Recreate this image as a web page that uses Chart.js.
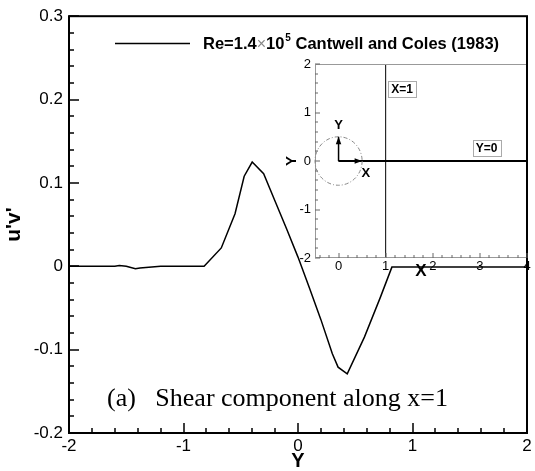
<!DOCTYPE html>
<html>
<head>
<meta charset="utf-8">
<script src="https://cdn.jsdelivr.net/npm/chart.js@4.4.0/dist/chart.umd.min.js"></script>
<style>
html, body { margin: 0; padding: 0; background: #fff; }
#wrap { position: relative; width: 535px; height: 471px; }
#main { position: absolute; left: 0; top: 0; }
#inset { position: absolute; left: 280px; top: 50px; }
</style>
</head>
<body>
<div id="wrap">
    <canvas id="main" width="535" height="471"></canvas>
    <canvas id="inset" width="255" height="230"></canvas>
</div>
<script>
// data kurva utama
var yPos = [-2, -1.8, -1.6, -1.56, -1.5, -1.42, -1.38, -1.2, -1.0, -0.82, -0.67, -0.55, -0.47, -0.4, -0.3,
    -0.2, -0.1, 0.0, 0.1, 0.2, 0.3, 0.35, 0.43, 0.58, 0.72, 0.82, 1.0, 1.5, 2.0];
var uvShear = [0, 0, 0, 0.001, 0, -0.003, -0.002, 0, 0, 0, 0.022, 0.063, 0.108, 0.125, 0.111,
    0.078, 0.045, 0.011, -0.026, -0.064, -0.105, -0.121, -0.129, -0.085, -0.037, -0.001, -0.001, -0.001, -0.001];

// tick utama
var xTicksMain = [-2, -1, 0, 1, 2];
var yTicksMain = [-0.2, -0.1, 0, 0.1, 0.2, 0.3];

// data inset
var insetXTicks = [0, 1, 2, 3, 4];
var insetYTicks = [-2, -1, 0, 1, 2];
var lineX1 = { x: [1, 1], y: [-2, 2] };
var lineY0 = { x: [0, 4], y: [0, 0] };
var arrowX = { x: [0, 0.5], y: [0, 0] };
var arrowY = { x: [0, 0], y: [0, 0.5] };
var circle = { x: 0, y: 0, r: 0.5 };

function toPoints(xs, ys) {
    var pts = [];
    for (var i = 0; i < xs.length; i++) pts.push({ x: xs[i], y: ys[i] });
    return pts;
}

var sansFont = "'Liberation Sans', Arial, sans-serif";
var serifFont = "'Liberation Serif', 'Times New Roman', serif";

// tick ke dalam (bawah dan kiri)
function drawInnerTicks(chart, opt) {
    var ctx = chart.ctx;
    var a = chart.chartArea;
    var xs = chart.scales.x, ys = chart.scales.y;
    ctx.save();
    ctx.strokeStyle = opt.tickColor;
    ctx.lineWidth = opt.width;
    ctx.setLineDash([]);
    ctx.beginPath();
    var nx = Math.round((opt.xMax - opt.xMin) / opt.xMinor);
    for (var i = 0; i <= nx; i++) {
        var v = opt.xMin + i * opt.xMinor;
        var px = Math.round(xs.getPixelForValue(v));
        var isMajor = Math.abs(v / opt.xMajor - Math.round(v / opt.xMajor)) < 1e-6;
        var len = isMajor ? opt.major : opt.minor;
        ctx.moveTo(px, a.bottom);
        ctx.lineTo(px, a.bottom - len);
    }
    var ny = Math.round((opt.yMax - opt.yMin) / opt.yMinor);
    for (var j = 0; j <= ny; j++) {
        var w = opt.yMin + j * opt.yMinor;
        var py = Math.round(ys.getPixelForValue(w));
        var isMaj = Math.abs(w / opt.yMajor - Math.round(w / opt.yMajor)) < 1e-6;
        var l = isMaj ? opt.major : opt.minor;
        ctx.moveTo(a.left, py);
        ctx.lineTo(a.left + l, py);
    }
    ctx.stroke();
    ctx.restore();
}

// plugin chart utama
var mainDeco = {
    id: 'mainDeco',
    afterDraw: function(chart) {
        var ctx = chart.ctx;
        var a = chart.chartArea;
        ctx.save();
        ctx.strokeStyle = '#000';
        ctx.lineWidth = 2;
        ctx.strokeRect(a.left, a.top, a.right - a.left, a.bottom - a.top);
        ctx.restore();
        drawInnerTicks(chart, {
            xMin: -2, xMax: 2, xMinor: 0.2, xMajor: 1,
            yMin: -0.2, yMax: 0.3, yMinor: 0.02, yMajor: 0.1,
            major: 10, minor: 5, tickColor: '#000', width: 1.5
        });
        ctx.save();
        // legenda
        ctx.strokeStyle = '#000';
        ctx.lineWidth = 1.5;
        ctx.beginPath();
        ctx.moveTo(115, 43.5);
        ctx.lineTo(190, 43.5);
        ctx.stroke();
        ctx.textBaseline = 'alphabetic';
        ctx.textAlign = 'left';
        var x = 203, base = 49;
        ctx.fillStyle = '#000';
        ctx.font = 'bold 16.5px ' + sansFont;
        ctx.fillText('Re=1.4', x, base);
        x += ctx.measureText('Re=1.4').width;
        ctx.font = '16px ' + sansFont;
        ctx.fillStyle = '#888';
        ctx.fillText('\u00d7', x, base);
        x += ctx.measureText('\u00d7').width;
        ctx.fillStyle = '#000';
        ctx.font = 'bold 16.5px ' + sansFont;
        ctx.fillText('10', x, base);
        x += ctx.measureText('10').width;
        ctx.font = 'bold 10px ' + sansFont;
        ctx.fillText('5', x + 1, base - 8);
        x += ctx.measureText('5').width + 1;
        ctx.font = 'bold 16.5px ' + sansFont;
        ctx.fillText(' Cantwell and Coles (1983)', x, base);

        // keterangan
        ctx.font = '26px ' + serifFont;
        ctx.fillText('(a)   Shear component along x=1', 107, 406);
        ctx.restore();
    }
};

new Chart(document.getElementById('main'), {
    type: 'scatter',
    data: {
        datasets: [{
            label: 'Re=1.4x10^5 Cantwell and Coles (1983)',
            data: toPoints(yPos, uvShear),
            showLine: true,
            borderColor: '#000',
            borderWidth: 1.5,
            pointRadius: 0,
            tension: 0
        }]
    },
    options: {
        responsive: false,
        animation: false,
        layout: { padding: { top: 16, right: 8, left: 0, bottom: 0 } },
        plugins: { legend: { display: false }, tooltip: { enabled: false } },
        scales: {
            x: {
                type: 'linear', min: -2, max: 2,
                afterBuildTicks: function(s) { s.ticks = xTicksMain.map(function(v) { return { value: v }; }); },
                afterFit: function(s) { s.height = 38; },
                ticks: { color: '#000', padding: 3, font: { family: sansFont, size: 17 } },
                grid: { display: false, drawTicks: false },
                border: { display: false },
                title: { display: true, text: 'Y', color: '#000', padding: 0, font: { family: sansFont, size: 20, weight: 'bold', lineHeight: 1 } }
            },
            y: {
                type: 'linear', min: -0.2, max: 0.3,
                afterBuildTicks: function(s) { s.ticks = yTicksMain.map(function(v) { return { value: v }; }); },
                afterFit: function(s) { s.width = 69; },
                ticks: {
                    color: '#000', padding: 6, font: { family: sansFont, size: 17 },
                    callback: function(v) { return String(Math.round(v * 10) / 10); }
                },
                grid: { display: false, drawTicks: false },
                border: { display: false },
                title: { display: true, text: "u'v'", color: '#000', padding: { top: 3, bottom: 0 }, font: { family: sansFont, size: 21, weight: 'bold', lineHeight: 1.1 } }
            }
        }
    },
    plugins: [mainDeco]
});

// plugin inset
function arrowHead(ctx, x0, y0, x1, y1, size) {
    var ang = Math.atan2(y1 - y0, x1 - x0);
    ctx.beginPath();
    ctx.moveTo(x1, y1);
    ctx.lineTo(x1 - size * Math.cos(ang - 0.35), y1 - size * Math.sin(ang - 0.35));
    ctx.lineTo(x1 - size * Math.cos(ang + 0.35), y1 - size * Math.sin(ang + 0.35));
    ctx.closePath();
    ctx.fill();
}

function boxLabel(ctx, text, cx, cy) {
    ctx.font = 'bold 12px ' + sansFont;
    var w = ctx.measureText(text).width;
    ctx.fillStyle = '#000';
    ctx.textAlign = 'center';
    ctx.textBaseline = 'middle';
    ctx.fillText(text, cx, cy);
    ctx.strokeStyle = '#aaa';
    ctx.lineWidth = 1;
    ctx.strokeRect(Math.round(cx - w / 2 - 3) + 0.5, Math.round(cy - 8) + 0.5, Math.round(w + 6), 16);
}

var insetDeco = {
    id: 'insetDeco',
    beforeDraw: function(chart) {
        var a = chart.chartArea;
        chart.ctx.save();
        chart.ctx.fillStyle = '#fff';
        chart.ctx.fillRect(a.left, a.top, a.right - a.left, a.bottom - a.top);
        chart.ctx.restore();
    },
    afterDraw: function(chart) {
        var ctx = chart.ctx;
        var a = chart.chartArea;
        var xs = chart.scales.x, ys = chart.scales.y;
        ctx.save();
        // bingkai
        ctx.lineWidth = 1;
        ctx.strokeStyle = '#999';
        ctx.beginPath();
        ctx.moveTo(a.right, a.top + 0.5);
        ctx.lineTo(a.left + 0.5, a.top + 0.5);
        ctx.lineTo(a.left + 0.5, a.bottom - 0.5);
        ctx.lineTo(a.right, a.bottom - 0.5);
        ctx.stroke();
        ctx.strokeStyle = '#000';
        ctx.lineWidth = 2;
        ctx.beginPath();
        ctx.moveTo(a.right, a.top);
        ctx.lineTo(a.right, a.bottom);
        ctx.stroke();
        ctx.restore();
        drawInnerTicks(chart, {
            xMin: -0.4, xMax: 4, xMinor: 0.2, xMajor: 1,
            yMin: -2, yMax: 2, yMinor: 0.2, yMajor: 1,
            major: 5, minor: 3, tickColor: '#666', width: 1
        });
        ctx.save();

        // lingkaran putus-putus
        var cx = xs.getPixelForValue(circle.x), cy = ys.getPixelForValue(circle.y);
        var rx = xs.getPixelForValue(circle.x + circle.r) - cx;
        var ry = cy - ys.getPixelForValue(circle.y + circle.r);
        ctx.strokeStyle = '#888';
        ctx.lineWidth = 1;
        ctx.setLineDash([4, 2, 1, 2]);
        ctx.beginPath();
        ctx.ellipse(cx, cy, rx, ry, 0, 0, Math.PI * 2);
        ctx.stroke();
        ctx.setLineDash([]);

        // kepala panah
        ctx.fillStyle = '#000';
        arrowHead(ctx, xs.getPixelForValue(arrowX.x[0]), ys.getPixelForValue(arrowX.y[0]),
            xs.getPixelForValue(arrowX.x[1]), ys.getPixelForValue(arrowX.y[1]), 8);
        arrowHead(ctx, xs.getPixelForValue(arrowY.x[0]), ys.getPixelForValue(arrowY.y[0]),
            xs.getPixelForValue(arrowY.x[1]), ys.getPixelForValue(arrowY.y[1]), 8);

        // label
        ctx.font = 'bold 13px ' + sansFont;
        ctx.textAlign = 'center';
        ctx.textBaseline = 'middle';
        ctx.fillText('Y', xs.getPixelForValue(0), ys.getPixelForValue(0.73));
        ctx.fillText('X', xs.getPixelForValue(0.58), ys.getPixelForValue(-0.25));
        boxLabel(ctx, 'X=1', xs.getPixelForValue(1.35), ys.getPixelForValue(1.48));
        boxLabel(ctx, 'Y=0', xs.getPixelForValue(3.14), ys.getPixelForValue(0.26));
        ctx.restore();
    }
};

new Chart(document.getElementById('inset'), {
    type: 'scatter',
    data: {
        datasets: [
            { data: toPoints(lineX1.x, lineX1.y), showLine: true, borderColor: '#000', borderWidth: 1, pointRadius: 0 },
            { data: toPoints(lineY0.x, lineY0.y), showLine: true, borderColor: '#000', borderWidth: 2, pointRadius: 0 },
            { data: toPoints(arrowX.x, arrowX.y), showLine: true, borderColor: '#000', borderWidth: 1.5, pointRadius: 0 },
            { data: toPoints(arrowY.x, arrowY.y), showLine: true, borderColor: '#000', borderWidth: 1.5, pointRadius: 0 }
        ]
    },
    options: {
        responsive: false,
        animation: false,
        layout: { padding: { top: 14, right: 8, left: 0, bottom: 0 } },
        plugins: { legend: { display: false }, tooltip: { enabled: false } },
        scales: {
            x: {
                type: 'linear', min: -0.5, max: 4,
                afterBuildTicks: function(s) { s.ticks = insetXTicks.map(function(v) { return { value: v }; }); },
                afterFit: function(s) { s.height = 22; },
                ticks: { color: '#000', padding: 1, font: { family: sansFont, size: 13 } },
                grid: { display: false, drawTicks: false },
                border: { display: false },
                title: { display: true, text: 'X', color: '#000', padding: 0, font: { family: sansFont, size: 17, weight: 'bold', lineHeight: 1 } }
            },
            y: {
                type: 'linear', min: -2, max: 2,
                afterBuildTicks: function(s) { s.ticks = insetYTicks.map(function(v) { return { value: v }; }); },
                afterFit: function(s) { s.width = 35; },
                ticks: { color: '#000', padding: 4, font: { family: sansFont, size: 13 } },
                grid: { display: false, drawTicks: false },
                border: { display: false },
                title: { display: true, text: 'Y', color: '#000', padding: { top: 3, bottom: 0 }, font: { family: sansFont, size: 15, weight: 'bold' } }
            }
        }
    },
    plugins: [insetDeco]
});
</script>
</body>
</html>
